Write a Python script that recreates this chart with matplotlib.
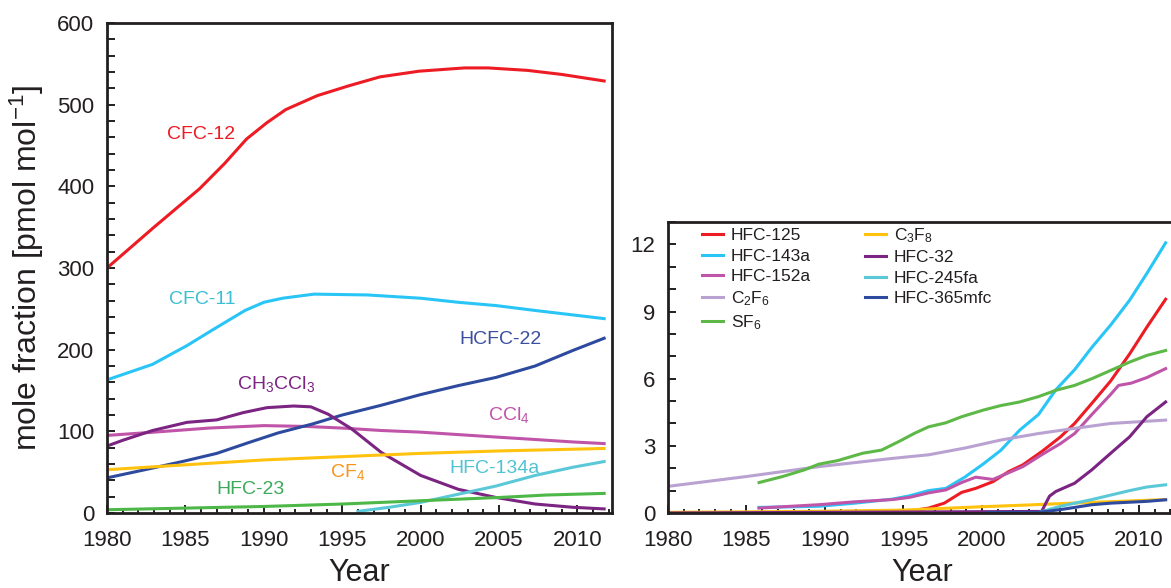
import matplotlib
matplotlib.use("Agg")
import matplotlib.pyplot as plt
from matplotlib.ticker import MultipleLocator

plt.rcParams['font.family'] = ['Liberation Sans', 'DejaVu Sans']
plt.rcParams['mathtext.default'] = 'regular'

# ---------------- Left panel data (pmol/mol) ----------------
cfc12_yr = [1980, 1983, 1985.9, 1987.5, 1988.9, 1990.2, 1991.4, 1993.4, 1995.4, 1997.4, 1999.9, 2002.8, 2004.3, 2006.8, 2009, 2011.7]
cfc12_v = [300, 350, 397, 428, 458, 478, 494, 511, 523, 534, 541, 545, 545, 542, 537, 529]

cfc11_yr = [1980, 1982.9, 1985.1, 1986.8, 1988.8, 1990, 1991.2, 1993.2, 1996.6, 2000, 2002.4, 2004.8, 2007.3, 2011.7]
cfc11_v = [163, 182, 205, 225, 248, 258, 263, 268, 267, 263, 258, 254, 248, 238]

hcfc22_yr = [1980, 1982.9, 1984.8, 1987, 1989, 1990.9, 1993.1, 1995, 1997.5, 2000, 2002.4, 2004.8, 2007.3, 2009.7, 2011.7]
hcfc22_v = [43, 55, 63, 73, 86, 98, 109, 120, 132, 145, 156, 166, 180, 199, 214]

ch3ccl3_yr = [1980, 1981, 1982.9, 1985.1, 1987, 1988.7, 1990.2, 1991.9, 1993, 1994.1, 1995.6, 1997.5, 2000, 2002.4, 2004.8, 2007.3, 2009.7, 2011.7]
ch3ccl3_v = [82, 89, 101, 111, 114, 123, 129, 131, 130, 121, 103, 74, 46, 29, 19, 11, 7, 5]

ccl4_yr = [1980, 1983, 1986.5, 1990, 1992.7, 1995, 1997.5, 2000, 2002.4, 2004.8, 2007.3, 2009.7, 2011.7]
ccl4_v = [95, 99, 104, 107, 106, 104, 101, 99, 96, 93, 90, 87, 85]

cf4_yr = [1980, 1985, 1990, 1995, 2000, 2005, 2011.7]
cf4_v = [53, 59, 65, 69, 73, 76, 79]

hfc134a_yr = [1996, 1998, 2000, 2002.4, 2004.8, 2007.3, 2009.7, 2011.7]
hfc134a_v = [2, 7, 13, 23, 33, 46, 56, 63]

hfc23_yr = [1980, 1985, 1990, 1995, 2000, 2005, 2008, 2011.7]
hfc23_v = [4, 6, 8, 11, 15, 19, 22, 24]

# ---------------- Right panel data (pmol/mol) ----------------
hfc125_yr = [1980, 1990, 1995.1, 1996.6, 1997.6, 1998.7, 1999.6, 2000.7, 2001.7, 2002.6, 2003.8, 2005, 2005.9, 2007, 2008.2, 2009.4, 2010.5, 2011.7]
hfc125_v = [0.02, 0.03, 0.05, 0.22, 0.44, 0.92, 1.1, 1.4, 1.85, 2.15, 2.74, 3.4, 4.0, 4.9, 5.9, 7.1, 8.3, 9.55]

hfc143a_yr = [1985.8, 1989.6, 1991.9, 1994.3, 1995.4, 1996.6, 1997.7, 1998.9, 2000.1, 2001.2, 2002.4, 2003.6, 2004.7, 2005.9, 2007, 2008.2, 2009.4, 2010.5, 2011.7]
hfc143a_v = [0.25, 0.3, 0.44, 0.62, 0.77, 1.0, 1.1, 1.6, 2.2, 2.8, 3.7, 4.4, 5.5, 6.4, 7.4, 8.4, 9.5, 10.7, 12.07]

hfc152a_yr = [1985.8, 1989.6, 1991.9, 1994.3, 1995.4, 1996.6, 1997.7, 1998.7, 1999.6, 2000.7, 2001.7, 2002.6, 2003.8, 2005, 2005.9, 2007, 2008.2, 2008.7, 2009.5, 2010.5, 2011.7]
hfc152a_v = [0.22, 0.37, 0.5, 0.6, 0.7, 0.9, 1.03, 1.36, 1.6, 1.5, 1.8, 2.07, 2.6, 3.1, 3.55, 4.4, 5.3, 5.7, 5.8, 6.05, 6.45]

c2f6_yr = [1980, 1985, 1989.6, 1994.3, 1996.6, 1998.9, 2001.2, 2003.6, 2005.9, 2008.2, 2011.7]
c2f6_v = [1.19, 1.63, 2.07, 2.44, 2.6, 2.9, 3.26, 3.55, 3.78, 4.0, 4.15]

sf6_yr = [1985.8, 1987.3, 1988.7, 1989.6, 1990.8, 1992.4, 1993.6, 1994.7, 1995.7, 1996.6, 1997.7, 1998.7, 2000.1, 2001.2, 2002.4, 2003.6, 2004.7, 2005.9, 2007, 2008.2, 2009.4, 2010.5, 2011.7]
sf6_v = [1.36, 1.63, 1.93, 2.18, 2.34, 2.67, 2.81, 3.19, 3.56, 3.85, 4.03, 4.3, 4.6, 4.8, 4.96, 5.2, 5.48, 5.7, 6.0, 6.37, 6.74, 7.04, 7.26]

c3f8_yr = [1980, 1985, 1990, 1995, 2000, 2003, 2005, 2008, 2011.7]
c3f8_v = [0.03, 0.05, 0.08, 0.13, 0.28, 0.36, 0.42, 0.5, 0.6]

hfc32_yr = [1980, 2003.8, 2004.3, 2004.7, 2005.9, 2007, 2008.2, 2009.4, 2010.5, 2011.7]
hfc32_v = [0.0, 0.07, 0.75, 0.96, 1.33, 1.93, 2.67, 3.4, 4.3, 4.96]

hfc245fa_yr = [2003.6, 2005, 2007, 2008.2, 2009.4, 2010.5, 2011.7]
hfc245fa_v = [0.02, 0.3, 0.6, 0.8, 1.0, 1.16, 1.26]

hfc365mfc_yr = [2000.3, 2003.6, 2005, 2007, 2008.2, 2010.5, 2011.7]
hfc365mfc_v = [0.02, 0.03, 0.15, 0.37, 0.44, 0.52, 0.59]

DARK = '#231F20'
RED = '#ED1C24'
SKY = '#29C5F6'
NAVY = '#2E4A9E'
PURPLE = '#7B2482'
MAGENTA = '#C054A8'
YELLOW = '#FFC20E'
TEAL = '#5BC8D8'
GREEN = '#4DB848'
LAVENDER = '#B9A2D1'

LW = 2.2

fig = plt.figure(figsize=(11.71, 5.88), dpi=100)
W, H = 1171, 588
ax1 = fig.add_axes([107 / W, 1 - 513 / H, (612 - 107) / W, (513 - 23) / H])
ax2 = fig.add_axes([668 / W, 1 - 513 / H, (1176 - 668) / W, (513 - 222) / H])

def style(ax):
    for s in ax.spines.values():
        s.set_linewidth(2.0)
        s.set_color(DARK)
    ax.tick_params(which='both', direction='in', top=False, right=False,
                   color=DARK, labelcolor=DARK, labelsize=16, width=1.4)
    ax.tick_params(axis='y', which='both', length=5.8, pad=9)
    ax.tick_params(axis='x', which='major', length=5.8, pad=12)
    ax.tick_params(axis='x', which='minor', length=2.9)
    ax.xaxis.set_major_locator(MultipleLocator(5))
    ax.xaxis.set_minor_locator(MultipleLocator(1))
    ax.set_xlabel('Year', fontsize=22, color=DARK, labelpad=5)

# ---- Left panel ----
ax1.plot(cfc12_yr, cfc12_v, color=RED, lw=LW)
ax1.plot(cfc11_yr, cfc11_v, color=SKY, lw=LW)
ax1.plot(ccl4_yr, ccl4_v, color=MAGENTA, lw=LW)
ax1.plot(hcfc22_yr, hcfc22_v, color=NAVY, lw=LW)
ax1.plot(ch3ccl3_yr, ch3ccl3_v, color=PURPLE, lw=LW)
ax1.plot(cf4_yr, cf4_v, color=YELLOW, lw=LW)
ax1.plot(hfc134a_yr, hfc134a_v, color=TEAL, lw=LW)
ax1.plot(hfc23_yr, hfc23_v, color=GREEN, lw=LW)
ax1.set_xlim(1980, 2012.2)
ax1.set_ylim(0, 600)
ax1.yaxis.set_major_locator(MultipleLocator(100))
ax1.yaxis.set_minor_locator(MultipleLocator(20))
style(ax1)
ax1.set_ylabel('mole fraction [pmol mol$^{-1}$]', fontsize=23, color=DARK, labelpad=8)

lab_fs = 14
ax1.text(1983.85, 464, 'CFC-12', color=RED, fontsize=lab_fs, va='center')
ax1.text(1983.95, 261, 'CFC-11', color='#3DBFD2', fontsize=lab_fs, va='center')
ax1.text(2002.5, 212, 'HCFC-22', color='#3B4FA0', fontsize=lab_fs, va='center')
ax1.text(1988.3, 158, 'CH$_3$CCl$_3$', color=PURPLE, fontsize=lab_fs, va='center')
ax1.text(2004.3, 120, 'CCl$_4$', color=MAGENTA, fontsize=lab_fs, va='center')
ax1.text(1994.2, 50, 'CF$_4$', color='#F7941D', fontsize=lab_fs, va='center')
ax1.text(2001.8, 55, 'HFC-134a', color='#4FC3D3', fontsize=lab_fs, va='center')
ax1.text(1987.0, 29, 'HFC-23', color='#3CAA5A', fontsize=lab_fs, va='center')

# ---- Right panel ----
series = [
    (hfc125_yr, hfc125_v, RED, 'HFC-125'),
    (hfc143a_yr, hfc143a_v, SKY, 'HFC-143a'),
    (hfc152a_yr, hfc152a_v, MAGENTA, 'HFC-152a'),
    (c2f6_yr, c2f6_v, LAVENDER, 'C$_2$F$_6$'),
    (sf6_yr, sf6_v, '#5DB847', 'SF$_6$'),
    (c3f8_yr, c3f8_v, YELLOW, 'C$_3$F$_8$'),
    (hfc32_yr, hfc32_v, PURPLE, 'HFC-32'),
    (hfc245fa_yr, hfc245fa_v, TEAL, 'HFC-245fa'),
    (hfc365mfc_yr, hfc365mfc_v, NAVY, 'HFC-365mfc'),
]
for x, y, c, lab in series:
    ax2.plot(x, y, color=c, lw=LW, label=lab)
ax2.set_xlim(1980, 2012.36)
ax2.set_ylim(0, 13)
ax2.yaxis.set_major_locator(MultipleLocator(3))
ax2.yaxis.set_minor_locator(MultipleLocator(1))
style(ax2)
leg = ax2.legend(loc='upper left', bbox_to_anchor=(0.067, 0.985), ncol=2, frameon=False,
                 fontsize=12.5, handlelength=1.2, handletextpad=0.46, labelspacing=0.3,
                 columnspacing=3.1, borderpad=0, borderaxespad=0)
for t in leg.get_texts():
    t.set_color(DARK)

fig.savefig('out.png', dpi=100)
